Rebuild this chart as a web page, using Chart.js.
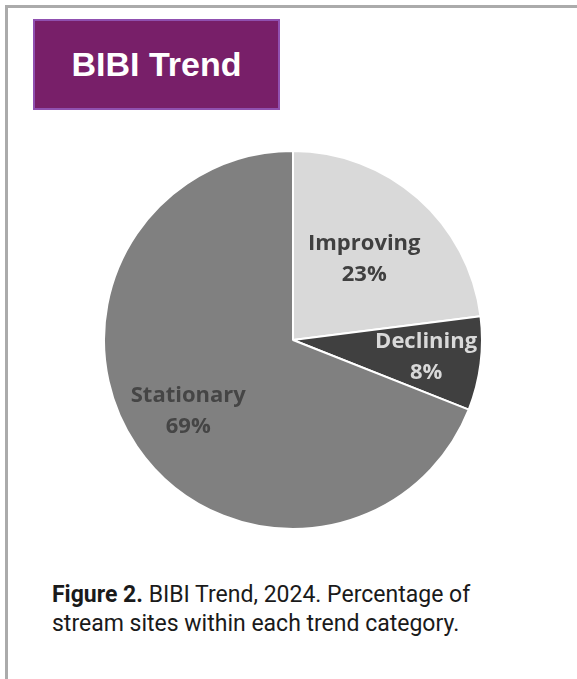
<!DOCTYPE html>
<html>
<head>
<meta charset="utf-8">
<script src="https://cdn.jsdelivr.net/npm/chart.js@4.4.0/dist/chart.umd.min.js"></script>
<style>
  html, body { margin: 0; padding: 0; background: #fff; }
  body { width: 577px; height: 679px; position: relative; overflow: hidden; }
  #frame {
    position: absolute; left: 5px; top: 5px; right: 0; bottom: 0;
    border-top: 3px solid #ababab; border-left: 3px solid #ababab;
  }
  #title {
    position: absolute; left: 33px; top: 19px; width: 243px; height: 87px;
    background: #781f69; border: 2px solid #9050b0;
    color: #fff; font: bold 34px "Liberation Sans", Arial, sans-serif;
    line-height: 87px; text-align: center;
  }
  #pie-box { position: absolute; left: 103px; top: 150px; width: 380px; height: 380px; }
  #caption {
    position: absolute; left: 52px; top: 580px;
    font: 23px Roboto, sans-serif; color: #1a1a1a; line-height: 29px;
  }
</style>
</head>
<body>
<div id="frame"></div>
<div id="title">BIBI Trend</div>
<div id="pie-box"><canvas id="chart"></canvas></div>
<div id="caption"><b>Figure 2.</b> BIBI Trend, 2024. Percentage of<br>stream sites within each trend category.</div>
<script>
// BIBI trend categories, 2024
const categories = ['Improving', 'Declining', 'Stationary'];
const percentages = [23, 8, 69];
const sliceColors = ['#d9d9d9', '#404040', '#808080'];
const labelColors = ['#404040', '#d9d9d9', '#454545'];

// where each label sits, as fraction of the radius
const labelRadius = [0.57, 0.71, 0.67];

const sliceLabels = {
  id: 'sliceLabels',
  afterDatasetsDraw(chart) {
    const ctx = chart.ctx;
    const meta = chart.getDatasetMeta(0);
    ctx.save();
    ctx.font = 'bold 22px "Open Sans", sans-serif';
    ctx.textAlign = 'center';
    ctx.textBaseline = 'middle';
    meta.data.forEach((arc, i) => {
      const mid = (arc.startAngle + arc.endAngle) / 2;
      const r = arc.outerRadius * labelRadius[i];
      const x = arc.x + Math.cos(mid) * r;
      const y = arc.y + Math.sin(mid) * r;
      ctx.fillStyle = labelColors[i];
      ctx.fillText(categories[i], x, y - 15);
      ctx.fillText(percentages[i] + '%', x, y + 16);
    });
    ctx.restore();
  }
};

new Chart(document.getElementById('chart'), {
  type: 'pie',
  data: {
    labels: categories,
    datasets: [{
      data: percentages,
      backgroundColor: sliceColors,
      borderColor: '#ffffff',
      borderWidth: 2
    }]
  },
  options: {
    responsive: true,
    maintainAspectRatio: false,
    animation: false,
    layout: { padding: 0 },
    plugins: {
      legend: { display: false },
      tooltip: { enabled: false }
    }
  },
  plugins: [sliceLabels]
});
</script>
</body>
</html>
